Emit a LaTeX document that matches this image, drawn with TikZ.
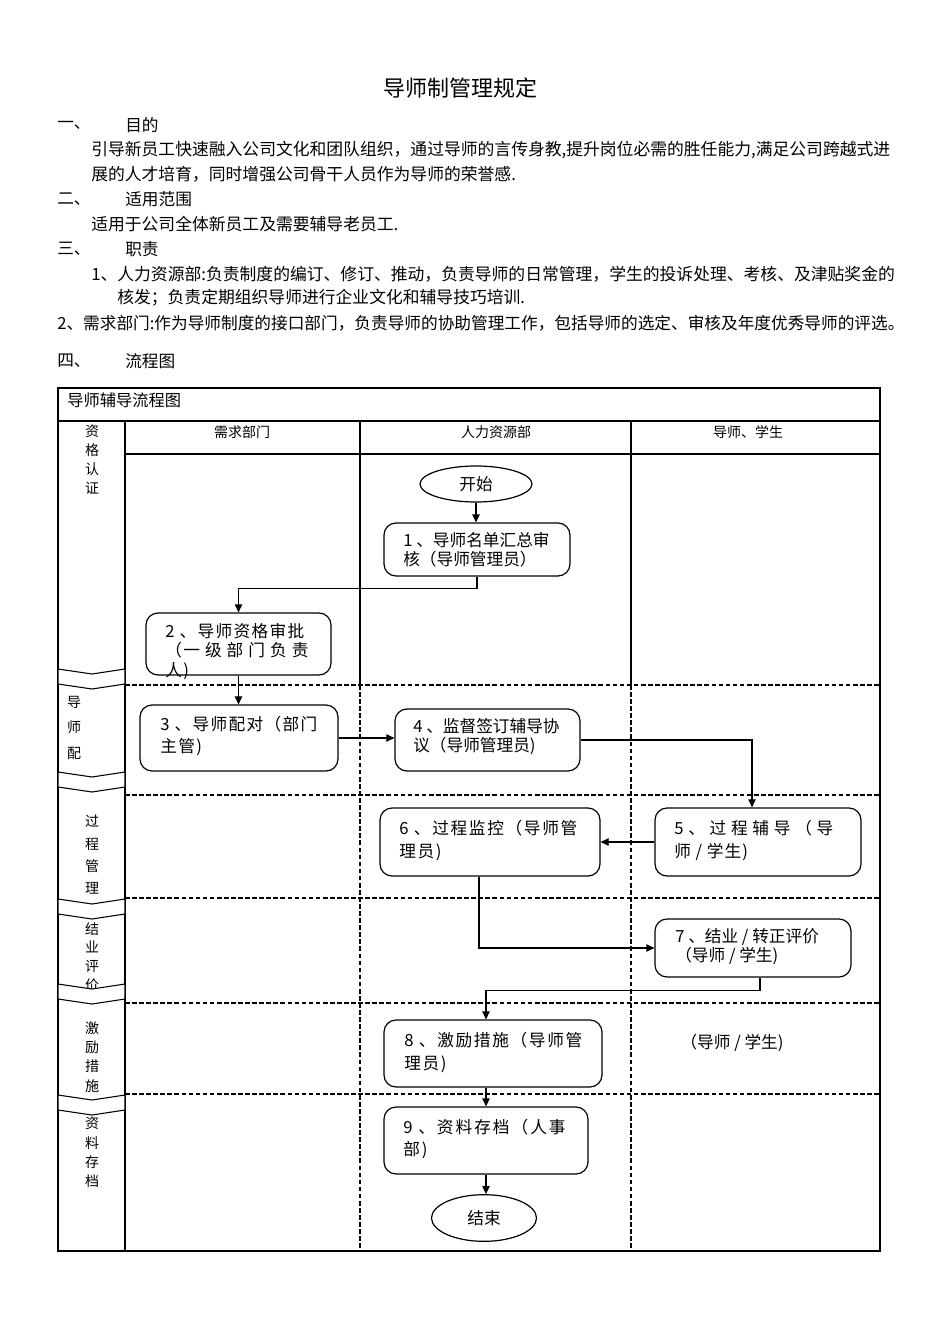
\documentclass[tikz,border=0pt]{standalone}
\usepackage{fontspec}
\setmainfont{Noto Sans CJK SC}
\usetikzlibrary{arrows.meta,shapes.geometric,fit,calc}
\begin{document}
\begin{tikzpicture}[x=0.75pt,y=-0.75pt,
  body/.style={anchor=west, inner sep=0pt, font=\fontsize{12.5pt}{15pt}\selectfont},
  hdr/.style={inner sep=0pt, font=\fontsize{10.5pt}{12pt}\selectfont},
  lane/.style={anchor=north, inner sep=0pt, align=center, font=\fontsize{10.5pt}{#1}\selectfont},
  proc/.style={draw, rounded corners=9pt, inner sep=0pt, line width=0.9pt},
  ptext/.style={anchor=north west, inner sep=0pt, align=left, font=\fontsize{12.5pt}{#1}\selectfont},
  pwide/.style 2 args={anchor=north west, inner sep=0pt, align=left, font=\fontsize{12.5pt}{#1}\selectfont\addfontfeature{LetterSpace=#2}},
  term/.style={draw, ellipse, inner sep=0pt, line width=0.9pt, font=\fontsize{12.5pt}{15pt}\selectfont},
  arr/.style={-{Triangle[length=6pt,width=5.5pt]}, line width=0.8pt},
  frame/.style={line width=0.8pt},
  dsh/.style={line width=0.8pt, dash pattern=on 3.5pt off 1.8pt},
  chev/.style={draw, fill=white, line width=0.8pt},
]
\useasboundingbox (0,0) rectangle (950,1344);

% ---------- heading text ----------
\node[inner sep=0pt, font=\fontsize{16.5pt}{18pt}\selectfont] (title) at (460,88) {导师制管理规定};
\node[body] (s1) at (57,125) {一、};
\node[body] (s1t) at (125,125) {目的};
\node[body, font=\fontsize{12.6pt}{15pt}\selectfont] (p1a) at (91,150) {引导新员工快速融入公司文化和团队组织，通过导师的言传身教,提升岗位必需的胜任能力,满足公司跨越式进};
\node[body, font=\fontsize{12.6pt}{15pt}\selectfont] (p1b) at (91,174) {展的人才培育，同时增强公司骨干人员作为导师的荣誉感.};
\node[body] (s2) at (57,199) {二、};
\node[body] (s2t) at (125,199) {适用范围};
\node[body, font=\fontsize{12.6pt}{15pt}\selectfont] (p2) at (91,224) {适用于公司全体新员工及需要辅导老员工.};
\node[body] (s3) at (57,249) {三、};
\node[body] (s3t) at (125,249) {职责};
\node[body, font=\fontsize{12.6pt}{15pt}\selectfont] (p3a) at (91,274) {1、人力资源部:负责制度的编订、修订、推动，负责导师的日常管理，学生的投诉处理、考核、及津贴奖金的};
\node[body, font=\fontsize{12.6pt}{15pt}\selectfont] (p3b) at (117,298) {核发；负责定期组织导师进行企业文化和辅导技巧培训.};
\node[body] (p3c) at (57,323) {2、需求部门:作为导师制度的接口部门，负责导师的协助管理工作，包括导师的选定、审核及年度优秀导师的评选。};
\node[body] (s4) at (57,361) {四、};
\node[body] (s4t) at (125,361) {流程图};

% ---------- flowchart frame ----------
\draw[frame] (58,388) rectangle (880,1251);
\draw[frame] (58,421) -- (880,421);
\draw[frame] (125,454) -- (880,454);
\draw[frame] (125,421) -- (125,1251);
\draw[frame] (360,421) -- (360,685);
\draw[frame] (631,421) -- (631,685);
\draw[dsh] (360,685) -- (360,1251);
\draw[dsh] (631,685) -- (631,1251);
\foreach \yy in {685,795,898,1003,1094} { \draw[dsh] (125,\yy) -- (880,\yy); }

\node[body, font=\fontsize{12.2pt}{14pt}\selectfont] (ftitle) at (67,400) {导师辅导流程图};
\node[hdr] (h1) at (242,432) {需求部门};
\node[hdr] (h2) at (496,432) {人力资源部};
\node[hdr] (h3) at (748,432) {导师、学生};

% ---------- phase labels ----------
\node[lane=14.25pt] (l1) at (92,425) {资\\格\\认\\证};
\node[lane=19pt] (l2) at (74,696) {导\\师\\配};
\node[lane=16.7pt] (l3) at (92,815) {过\\程\\管\\理};
\node[lane=14pt] (l4) at (92,922) {结\\业\\评\\价};
\node[lane=14.5pt] (l5) at (92,1021) {激\\励\\措\\施};
\node[lane=14.5pt] (l6) at (92,1117) {资\\料\\存\\档};

% ---------- chevrons ----------
\foreach \yy in {669,772,899,984,1095} {
  \filldraw[chev] (58,\yy) -- (92,\yy+5) -- (125,\yy) -- (125,\yy+15) -- (92,\yy+20) -- (58,\yy+15) -- cycle;
}

% ---------- process nodes ----------
\node[term, minimum width=84pt, minimum height=27pt] (s) at (476,484) {开始};
\node[proc, fit={(384,523) (570,576)}] (n1) {};
\node[ptext=14.5pt] (t1) at (403,532) {1 、导师名单汇总审\\核（导师管理员）};
\node[proc, fit={(146,613) (331,675)}] (n2) {};
\node[pwide={14.6pt}{8}] (t2) at (165,623) {2 、导师资格审批\\（一 级 部 门 负 责\\人)};
\node[proc, fit={(140,705) (338,771)}] (n3) {};
\node[pwide={16.5pt}{8}] (t3) at (160,716) {3 、导师配对（部门\\主管)};
\node[proc, fit={(395,709) (580,771)}] (n4) {};
\node[ptext=14.3pt] (t4) at (413,718) {4 、监督签订辅导协\\议（导师管理员)};
\node[proc, fit={(655,808) (861,876)}] (n5) {};
\node[pwide={17pt}{6}] (t5) at (674,820) {5 、 过 程 辅 导 （ 导\\师 / 学生)};
\node[proc, fit={(380,808) (600,876)}] (n6) {};
\node[pwide={17pt}{10}] (t6) at (399,820) {6 、过程监控（导师管\\理员)};
\node[proc, fit={(655,919) (851,977)}] (n7) {};
\node[ptext=14.3pt] (t7) at (675,928) {7 、结业 / 转正评价\\（导师 / 学生)};
\node[proc, fit={(384,1020) (602,1087)}] (n8) {};
\node[pwide={17pt}{10}] (t8) at (404,1032) {8 、激励措施（导师管\\理员)};
\node[inner sep=0pt, font=\fontsize{12.5pt}{15pt}\selectfont] (t8b) at (732,1043) {（导师 / 学生)};
\node[proc, fit={(384,1107) (588,1174)}] (n9) {};
\node[pwide={16.5pt}{12}] (t9) at (403,1119) {9 、资料存档（人事\\部)};
\node[term, minimum width=78.75pt, minimum height=35pt] (e) at (484,1218) {结束};

% ---------- connectors ----------
\draw[arr] (s.south) -- (s.south |- n1.north);
\draw[arr] (n1.south) -- ++(0,12) -| (n2.north);
\draw[arr] (n2.south) -- (n2.south |- n3.north);
\draw[arr] (n3.east) -- (n3.east -| n4.west);
\draw[arr] (n4.east) -| ($(n5.north)+(-6,0)$);
\draw[arr] (n5.west) -- (n5.west -| n6.east);
\draw[arr] ($(n6.south)+(-11,0)$) |- (n7.west);
\draw[arr] ($(n7.south)+(7,0)$) -- ++(0,13) -| ($(n8.north)+(-7,0)$);
\draw[arr] (n9.north |- n8.south) -- (n9.north);
\draw[arr] (n9.south) -- (n9.south |- e.north);
\end{tikzpicture}
\end{document}
